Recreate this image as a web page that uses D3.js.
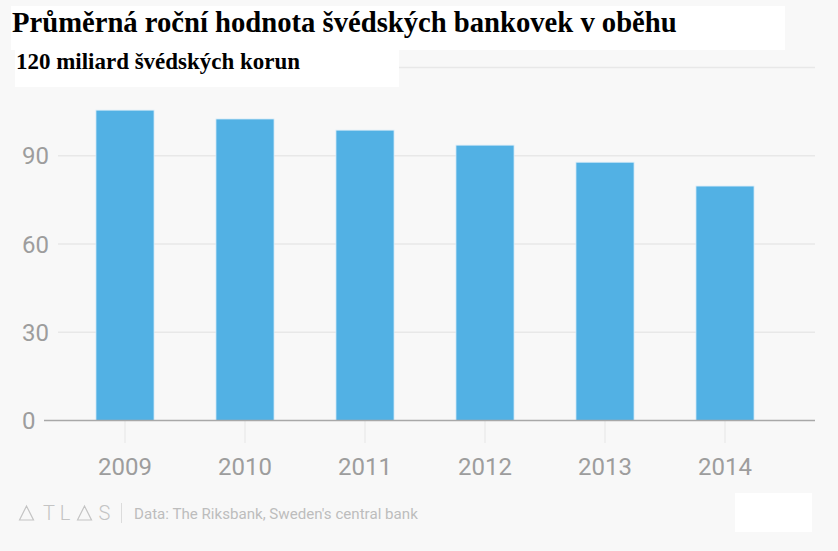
<!DOCTYPE html>
<html><head><meta charset="utf-8">
<script src="https://cdn.jsdelivr.net/npm/d3@7"></script>
<style>
html,body{margin:0;padding:0;background:#f8f8f8;}
svg{display:block;}
</style></head>
<body>
<svg id="c" width="838" height="551"></svg>
<script>
const years = ["2009","2010","2011","2012","2013","2014"];
const values = [105.5, 102.5, 98.7, 93.6, 87.8, 79.7];
const gridTicks = [0, 30, 60, 90, 120];
const yLabels = [0, 30, 60, 90];
const title = "Průměrná roční hodnota švédských bankovek v oběhu";
const subtitle = "120 miliard švédských korun";
const source = "Data: The Riksbank, Sweden's central bank";

const svg = d3.select("#c");
svg.append("rect").attr("width",838).attr("height",551).attr("fill","#f8f8f8");

const x = d3.scaleBand().domain(years).range([65,785]).paddingInner(0.516).paddingOuter(0.258);
const y = d3.scaleLinear().domain([0,120]).range([420.5, 67.5]);

// gridlines
svg.append("g").selectAll("line").data(gridTicks.filter(d=>d>0)).join("line")
  .attr("x1",58).attr("x2",815).attr("y1",d=>y(d)).attr("y2",d=>y(d))
  .attr("stroke","#e8e8e8").attr("stroke-width",1.3);

// x tick marks
svg.append("g").selectAll("line").data(years).join("line")
  .attr("x1",d=>x(d)+x.bandwidth()/2).attr("x2",d=>x(d)+x.bandwidth()/2)
  .attr("y1",420).attr("y2",443).attr("stroke","#e6e6e6").attr("stroke-width",1);

// bars
svg.append("g").selectAll("rect").data(years).join("rect")
  .attr("x",d=>x(d)).attr("width",x.bandwidth())
  .attr("y",(d,i)=>y(values[i])).attr("height",(d,i)=>y(0)-y(values[i]))
  .attr("fill","#52b1e4").attr("stroke","#d8ecf8").attr("stroke-width",0.8);

// baseline
svg.append("line").attr("x1",44).attr("x2",815).attr("y1",y(0)).attr("y2",y(0))
  .attr("stroke","#a8a8a8").attr("stroke-width",1.5);

// y labels
svg.append("g").selectAll("text").data(yLabels).join("text")
  .attr("x",22).attr("y",d=>y(d)+8.5).text(d=>d)
  .attr("font-family","Roboto").attr("font-size",24).attr("font-weight",400)
  .attr("fill","#9d9d9d");

// x labels
svg.append("g").selectAll("text").data(years).join("text")
  .attr("x",d=>x(d)+x.bandwidth()/2).attr("y",475).attr("text-anchor","middle").text(d=>d)
  .attr("font-family","Roboto").attr("font-size",24).attr("font-weight",400)
  .attr("fill","#9d9d9d");

// title box
svg.append("rect").attr("x",11).attr("y",6).attr("width",774).attr("height",44).attr("fill","#fff");
const t = svg.append("text").attr("x",12).attr("y",32).text(title)
  .attr("font-family","Liberation Serif").attr("font-weight","bold").attr("font-size",28).attr("fill","#000");
let w = t.node().getComputedTextLength();
t.attr("font-size", 28*665/w);

// subtitle box
svg.append("rect").attr("x",15).attr("y",50).attr("width",384).attr("height",37).attr("fill","#fff");
const s = svg.append("text").attr("x",16).attr("y",69).text(subtitle)
  .attr("font-family","Liberation Serif").attr("font-weight","bold").attr("font-size",19).attr("fill","#000");
w = s.node().getComputedTextLength();
s.attr("font-size", 19*284/w);

// footer logo
const g = svg.append("g").attr("fill","none").attr("stroke","#c4c4c4").attr("stroke-width",1.2);
g.append("path").attr("d","M19.5,520 L26.5,506 L33.5,520 Z");
g.append("path").attr("d","M77.5,520 L84.5,506 L91.5,520 Z");
svg.append("g").selectAll("text").data([["T",49],["L",65],["S",104.5]]).join("text")
  .attr("x",d=>d[1]).attr("y",520).attr("text-anchor","middle").text(d=>d[0])
  .attr("font-family","Roboto").attr("font-weight",300).attr("font-size",20).attr("fill","#c4c4c4");
svg.append("line").attr("x1",121.5).attr("x2",121.5).attr("y1",503).attr("y2",523)
  .attr("stroke","#dcdcdc").attr("stroke-width",1);
const src = svg.append("text").attr("x",134).attr("y",519).text(source)
  .attr("font-family","Roboto").attr("font-size",15).attr("fill","#bdbdbd");
w = src.node().getComputedTextLength();
src.attr("font-size", 15*284/w);

// white box bottom right
svg.append("rect").attr("x",735).attr("y",493).attr("width",77).attr("height",39).attr("fill","#fff");
</script>
</body></html>
